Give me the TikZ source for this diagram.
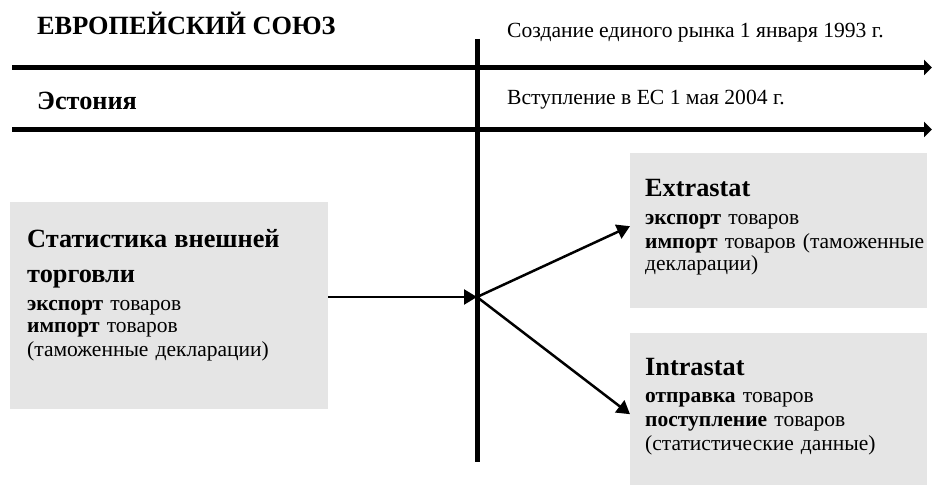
\documentclass[tikz,border=0pt]{standalone}
\usepackage{fontspec}
\setmainfont{Liberation Serif}
\usetikzlibrary{arrows.meta}
\setlength{\lineskiplimit}{-30pt}

\newcommand{\headfont}{\fontsize{26.3}{30}\selectfont\bfseries}

\tikzset{
  graybox/.style={fill=black!10, inner sep=0pt, anchor=north west},
  boxtext/.style={anchor=base west, align=left, inner sep=0pt, text width=285pt,
    font=\fontsize{21.5}{23.5}\selectfont},
  timeline/.style={line width=5pt, -{Triangle[length=8pt,width=15pt]}},
  flow/.style={line width=2.5pt, -{Triangle[length=13pt,width=15pt]}}
}

\begin{document}
\begin{tikzpicture}[x=1pt,y=-1pt]
\useasboundingbox (0,0) rectangle (932,486);

% time axis
\coordinate (top) at (477,39);
\coordinate (bot) at (477,462);
\coordinate (hub) at (477,297);
\draw[line width=5pt] (top) -- (bot);
\coordinate (eu-a) at (12,67.5);
\coordinate (eu-b) at (932,67.5);
\coordinate (ee-a) at (12,129.5);
\coordinate (ee-b) at (932,129.5);
\draw[timeline] (eu-a) -- (eu-b);
\draw[timeline] (ee-a) -- (ee-b);

% labels
\node[anchor=base west, inner sep=0pt, font=\fontsize{26.3}{30}\selectfont\bfseries] (eu) at (37,35) {ЕВРОПЕЙСКИЙ СОЮЗ};
\node[anchor=base west, inner sep=0pt, font=\fontsize{21.6}{24}\selectfont] (eudate) at (507,38) {Создание единого рынка 1 января 1993 г.};
\node[anchor=base west, inner sep=0pt, font=\fontsize{26.3}{30}\selectfont\bfseries] (ee) at (37,110) {Эстония};
\node[anchor=base west, inner sep=0pt, font=\fontsize{21.6}{24}\selectfont] (eedate) at (507,105) {Вступление в ЕС 1 мая 2004 г.};

% boxes
\node[graybox, minimum width=318pt, minimum height=207pt] (stat) at (10,202) {};
\node[boxtext] (stattxt) at (27,248)
  {{\headfont Статистика внешней}\\[11.5pt]
   {\headfont торговли}\\[4.5pt]
   \textbf{экспорт} товаров\\[-1.5pt]
   \textbf{импорт} товаров\\[0.5pt]
   (таможенные декларации)};

\node[graybox, minimum width=297pt, minimum height=155pt] (extra) at (630,153) {};
\node[boxtext] (extratxt) at (645,197)
  {{\headfont Extrastat}\\[4.5pt]
   \textbf{экспорт} товаров\\
   \textbf{импорт} товаров (таможенные\\[-1pt]
   декларации)};

\node[graybox, minimum width=297pt, minimum height=152pt] (intra) at (630,333) {};
\node[boxtext] (intratxt) at (645,375)
  {{\headfont Intrastat}\\[4.5pt]
   \textbf{отправка} товаров\\
   \textbf{поступление} товаров\\[1pt]
   (статистические данные)};

% flows
\draw[flow] (stat.east |- hub) -- (hub);
\draw[flow] (hub) -- ([yshift=4.5pt]extra.west);
\draw[flow] (hub) -- ([yshift=-5pt]intra.west);
\end{tikzpicture}
\end{document}
